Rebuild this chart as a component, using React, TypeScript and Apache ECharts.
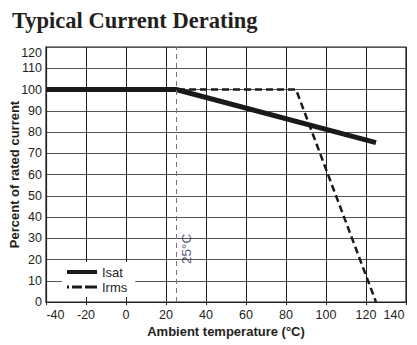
import React, { useEffect, useRef } from "react";
import * as echarts from "echarts";

const titleText = "Typical Current Derating";
const xTitle = "Ambient temperature (°C)";
const yTitle = "Percent of rated current";
const isatName = "Isat";
const irmsName = "Irms";
const isatX = [-40, 25, 125];
const isatY = [100, 100, 75];
const irmsX = [-40, 85, 125];
const irmsY = [100, 100, 0];
const refTemp = 25;
const refLabel = "25°C";
const refLabelY = 25;

export default function App() {
  const ref = useRef<HTMLDivElement>(null);
  useEffect(() => {
    if (!ref.current) return;
    const chart = echarts.init(ref.current, null, { renderer: "svg" });
    const labelFont = { fontFamily: "Liberation Sans", fontSize: 12.5, color: "#231f20" };
    chart.setOption({
      animation: false,
      backgroundColor: "#fff",
      title: {
        text: titleText,
        left: 7,
        top: 4,
        textStyle: {
          fontFamily: "Liberation Serif",
          fontWeight: "bold",
          fontSize: 22.5,
          color: "#231f20",
        },
      },
      grid: {
        left: 46,
        top: 47,
        right: 11,
        bottom: 43,
        containLabel: false,
        outerBoundsMode: "none",
        show: true,
        borderColor: "#222",
        borderWidth: 1.2,
        backgroundColor: "transparent",
      },
      legend: {
        orient: "vertical",
        left: 62,
        top: 262,
        itemWidth: 30,
        itemHeight: 4,
        itemGap: 1,
        padding: [3, 8, 3, 5],
        backgroundColor: "#fff",
        textStyle: { fontFamily: "Liberation Sans", fontSize: 13, color: "#231f20", lineHeight: 14 },
        data: [
          { name: isatName, icon: "path://M0,0h30v4h-30z" },
          { name: irmsName, icon: "path://M0,0.5h2v3h-2z M5,0.5h10v3h-10z M18,0.5h12v3h-12z M0,0h0.01v4h-0.01z" },
        ],
      },
      xAxis: {
        type: "value",
        min: -40,
        max: 140,
        interval: 20,
        name: xTitle,
        nameLocation: "middle",
        nameGap: 23,
        nameMoveOverlap: false,
        nameTextStyle: { fontFamily: "Liberation Sans", fontWeight: "bold", fontSize: 13, color: "#231f20" },
        axisLine: { show: true, onZero: false, lineStyle: { color: "#222", width: 1.2 } },
        axisTick: { show: true, length: 3, lineStyle: { color: "#222" } },
        axisLabel: {
          ...labelFont,
          margin: 6,
          formatter: (v: number) => (v === -40 ? "{l|-40}" : v === 140 ? "{r|140}" : String(v)),
          rich: {
            l: { ...labelFont, padding: [0, 0, 0, 19] },
            r: { ...labelFont, padding: [0, 24, 0, 0] },
          },
        },
        splitLine: { show: true, lineStyle: { color: "#222", width: 1, type: "solid" } },
      },
      yAxis: {
        type: "value",
        min: 0,
        max: 120,
        interval: 10,
        name: yTitle,
        nameLocation: "middle",
        nameGap: 25,
        nameMoveOverlap: false,
        nameTextStyle: { fontFamily: "Liberation Sans", fontWeight: "bold", fontSize: 13, color: "#231f20" },
        axisLine: { show: true, onZero: false, lineStyle: { color: "#222", width: 1.2 } },
        axisTick: { show: false },
        axisLabel: {
          ...labelFont,
          margin: 4,
          formatter: (v: number) => (v === 120 ? "{t|120}" : String(v)),
          rich: {
            t: { ...labelFont, padding: [11, 0, 0, 0] },
          },
        },
        splitLine: { show: true, lineStyle: { color: "#555", width: 1, type: "solid" } },
      },
      series: [
        {
          name: irmsName,
          type: "line",
          data: irmsX.map((x, i) => [x, irmsY[i]]),
          symbol: "none",
          lineStyle: { color: "#1a1a1a", width: 2.5, type: [7, 4] },
          itemStyle: { color: "#1a1a1a" },
          z: 3,
          markLine: {
            silent: true,
            symbol: "none",
            label: { show: false },
            lineStyle: { color: "#7a7090", width: 1, type: [5, 4] },
            data: [{ xAxis: refTemp }],
          },
        },
        {
          name: isatName,
          type: "line",
          data: isatX.map((x, i) => [x, isatY[i]]),
          symbol: "none",
          lineStyle: { color: "#1a1a1a", width: 5 },
          itemStyle: { color: "#1a1a1a" },
          z: 4,
        },
        {
          name: "ref",
          type: "scatter",
          data: [[refTemp, refLabelY]],
          symbolSize: 0,
          silent: true,
          label: {
            show: true,
            formatter: refLabel,
            position: "inside",
            rotate: 90,
            offset: [0, 10],
            fontFamily: "Liberation Sans",
            fontSize: 13.5,
            color: "#2a2a55",
          },
        },
      ],
    });
    return () => chart.dispose();
  }, []);
  return <div ref={ref} style={{ width: 417, height: 345, position: "absolute", left: 0, top: 0 }} />;
}
